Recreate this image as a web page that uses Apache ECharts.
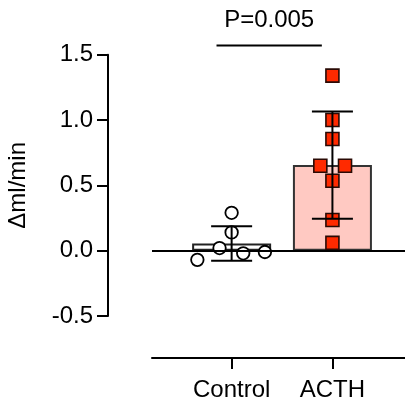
<!DOCTYPE html>
<html>
<head>
<meta charset="utf-8">
<script src="https://cdn.jsdelivr.net/npm/echarts@6/dist/echarts.min.js"></script>
<style>
  html, body { margin: 0; padding: 0; background: #fff; }
  #chart { width: 405px; height: 406px; }
</style>
</head>
<body>
<div id="chart"></div>
<script>
// Groups and their position on the horizontal value scale
const categories = ['Control', 'ACTH'];
const categoryPos = [0, 1];

// Individual measurements (Δml/min) and their horizontal jitter
const controlValues = [0.29, 0.14, 0.02, -0.07, -0.02, -0.01];
const controlJitter = [0, 0, -0.12, -0.34, 0.115, 0.33];
const acthValues = [1.34, 1.00, 0.855, 0.65, 0.65, 0.535, 0.235, 0.06];
const acthJitter = [0, 0, 0, -0.12, 0.125, 0, 0, 0];

// Group means and standard deviations
const means = [0.055, 0.655];
const sds = [0.132, 0.41];

// Y-axis tick values
const yTicks = [-0.5, 0, 0.5, 1.0, 1.5];

// Significance bracket
const pLabel = 'P=0.005';
const bracketLeft = -0.15;
const bracketRight = 0.895;
const bracketY = 1.57;

const FONT = '"Liberation Sans", Arial, Helvetica, sans-serif';
const FS = 24;

const chart = echarts.init(document.getElementById('chart'), null, { renderer: 'canvas' });

const controlPoints = controlValues.map((v, i) => [categoryPos[0] + controlJitter[i], v]);
const acthPoints = acthValues.map((v, i) => [categoryPos[1] + acthJitter[i], v]);

chart.setOption({
  animation: false,
  backgroundColor: '#fff',
  grid: { left: 152, right: 0, top: 54.7, bottom: 90, containLabel: false, outerBoundsMode: 'none' },
  xAxis: {
    type: 'value',
    min: -0.79,
    max: 1.72,
    position: 'bottom',
    offset: 42,
    axisLine: { onZero: false, lineStyle: { color: '#000', width: 2 } },
    axisTick: { show: true, length: 11, customValues: categoryPos, lineStyle: { color: '#000', width: 2 } },
    axisLabel: {
      customValues: categoryPos,
      margin: 20,
      color: '#000',
      fontSize: FS,
      fontFamily: FONT,
      formatter: v => categories[Math.round(v)]
    },
    splitLine: { show: false }
  },
  yAxis: {
    type: 'value',
    min: yTicks[0],
    max: yTicks[yTicks.length - 1],
    interval: 0.5,
    position: 'left',
    offset: 44,
    name: 'Δml/min',
    nameLocation: 'middle',
    nameRotate: 90,
    nameGap: 78,
    nameTextStyle: { color: '#000', fontSize: FS, fontFamily: FONT },
    axisLine: { show: true, onZero: false, lineStyle: { color: '#000', width: 2 } },
    axisTick: { show: true, length: 11, lineStyle: { color: '#000', width: 2 } },
    axisLabel: {
      margin: 15,
      color: '#000',
      fontSize: FS,
      fontFamily: FONT,
      formatter: v => v.toFixed(1)
    },
    splitLine: { show: false }
  },
  series: [
    {
      name: 'mean',
      type: 'bar',
      barWidth: 79,
      z: 1,
      data: [
        { value: [categoryPos[0], means[0]], itemStyle: { color: '#fff', borderColor: '#222', borderWidth: 2 } },
        { value: [categoryPos[1], means[1]], itemStyle: { color: '#ffc9c2', borderColor: '#333', borderWidth: 2 } }
      ]
    },
    {
      name: 'Control',
      type: 'scatter',
      symbol: 'circle',
      symbolSize: 12.5,
      z: 3,
      itemStyle: { color: '#fff', borderColor: '#000', borderWidth: 1.8, opacity: 1 },
      data: controlPoints
    },
    {
      name: 'ACTH',
      type: 'scatter',
      symbol: 'rect',
      symbolSize: 13,
      z: 3,
      itemStyle: { color: '#ff2a00', borderColor: '#2a0a05', borderWidth: 1.6, opacity: 1 },
      data: acthPoints
    },
    {
      name: 'sd',
      type: 'custom',
      z: 5,
      clip: false,
      data: categoryPos.map((x, i) => [x, means[i], sds[i]]),
      renderItem: (params, api) => {
        const x = api.value(0), m = api.value(1), s = api.value(2);
        const top = api.coord([x, m + s]);
        const bot = api.coord([x, m - s]);
        const half = 20.5;
        const style = { stroke: '#000', lineWidth: 2 };
        return {
          type: 'group',
          children: [
            { type: 'line', shape: { x1: top[0], y1: top[1], x2: bot[0], y2: bot[1] }, style },
            { type: 'line', shape: { x1: top[0] - half, y1: top[1], x2: top[0] + half, y2: top[1] }, style },
            { type: 'line', shape: { x1: bot[0] - half, y1: bot[1], x2: bot[0] + half, y2: bot[1] }, style }
          ]
        };
      },
      markLine: {
        silent: true,
        symbol: ['none', 'none'],
        label: { show: false },
        lineStyle: { color: '#000', width: 2, type: 'solid' },
        data: [{ yAxis: 0 }]
      }
    },
    {
      name: 'significance',
      type: 'custom',
      z: 5,
      clip: false,
      data: [[bracketLeft, bracketRight, bracketY]],
      renderItem: (params, api) => {
        const a = api.coord([api.value(0), api.value(2)]);
        const b = api.coord([api.value(1), api.value(2)]);
        return {
          type: 'group',
          children: [
            { type: 'line', shape: { x1: a[0], y1: a[1], x2: b[0], y2: b[1] }, style: { stroke: '#000', lineWidth: 2 } },
            {
              type: 'text',
              x: (a[0] + b[0]) / 2,
              y: a[1] - 13,
              style: {
                text: pLabel,
                fill: '#000',
                font: FS + 'px ' + FONT,
                align: 'center',
                verticalAlign: 'bottom'
              }
            }
          ]
        };
      }
    }
  ]
});
</script>
</body>
</html>
